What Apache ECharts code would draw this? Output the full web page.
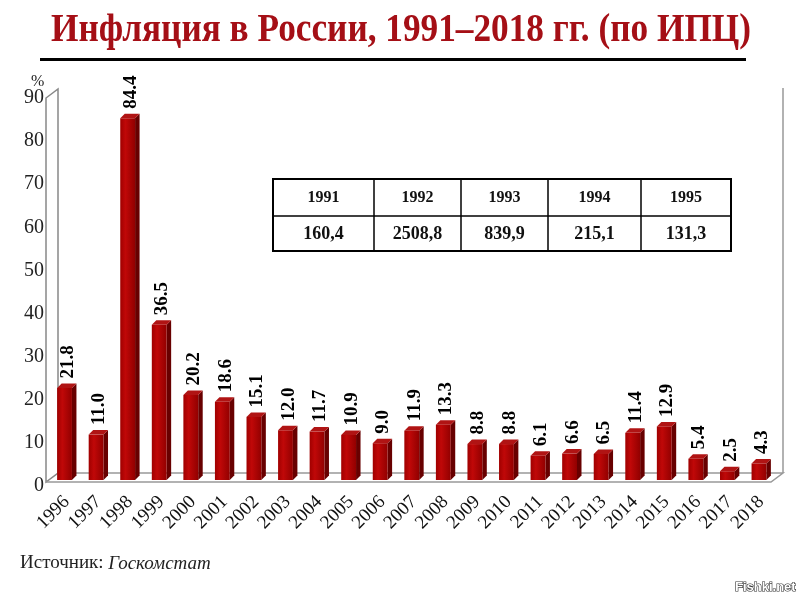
<!DOCTYPE html>
<html><head><meta charset="utf-8">
<script src="https://cdn.jsdelivr.net/npm/echarts@6/dist/echarts.min.js"></script>
<style>html,body{margin:0;padding:0;background:#fff}#c{width:800px;height:600px}</style>
</head><body><div id="c"></div>
<script>
const years = ['1996','1997','1998','1999','2000','2001','2002','2003','2004','2005','2006','2007','2008','2009','2010','2011','2012','2013','2014','2015','2016','2017','2018'];
const inflation = [21.8,11.0,84.4,36.5,20.2,18.6,15.1,12.0,11.7,10.9,9.0,11.9,13.3,8.8,8.8,6.1,6.6,6.5,11.4,12.9,5.4,2.5,4.3];
const yTicks = [0,10,20,30,40,50,60,70,80,90];
const tableYears = ['1991','1992','1993','1994','1995'];
const tableValues = ['160,4','2508,8','839,9','215,1','131,3'];
const titleText = 'Инфляция в России, 1991–2018 гг. (по ИПЦ)';

const G = {left:51, right:23, top:93, bottom:119};
const W = 800, H = 600;
const y0 = H - G.bottom;
const DX = 12, DY = 9; // wall depth

const chart = echarts.init(document.getElementById('c'), null, {renderer:'canvas'});

const serif = '"Liberation Serif","Times New Roman",serif';

function renderBar(params, api){
  const cat = api.value(0), v = api.value(1);
  const top = api.coord([cat, v]);
  const bot = api.coord([cat, 0]);
  const band = api.size([1,0])[0];
  const cx = top[0];
  const fw = band*0.47, d = 4.5;
  const xl = cx - (fw + d)/2, xr = xl + fw;
  const yt = top[1] + 1, yb = bot[1] - 1;
  const grad = new echarts.graphic.LinearGradient(0,0,1,0,[
    {offset:0,color:'#a00000'},{offset:0.35,color:'#c00808'},{offset:1,color:'#920000'}]);
  return {type:'group', children:[
    {type:'polygon', shape:{points:[[xr,yt],[xr+d,yt-d],[xr+d,yb-d],[xr,yb]]}, style:{fill:'#680000'}},
    {type:'rect', shape:{x:xl,y:yt,width:fw,height:yb-yt}, style:{fill:grad}},
    {type:'polygon', shape:{points:[[xl,yt],[xl+d,yt-d],[xr+d,yt-d],[xr,yt]]}, style:{fill:'#b01414'}},
    {type:'text', x:cx+1, y:yt-d-5, rotation:Math.PI/2,
      style:{text:v.toFixed(1), fill:'#000', font:'bold 19px '+serif, align:'left', verticalAlign:'middle'}}
  ]};
}

const graphics = [];
// title
graphics.push({type:'text', x:401, y:30, scaleX:0.86, originX:0, originY:0,
  style:{text:titleText, fill:'#a50f16', font:'bold 41px '+serif, align:'center', verticalAlign:'middle'}});
graphics.push({type:'rect', shape:{x:40,y:58,width:706,height:3}, style:{fill:'#000'}});
// walls
const xr = W - G.right;
graphics.push({type:'polygon', z:-1, shape:{points:[[46,y0+1],[46,G.top+5],[46+DX,G.top+5-DY],[46+DX,y0+1-DY]]}, style:{fill:'#fff', stroke:'#888', lineWidth:1.5}});
graphics.push({type:'polyline', z:-1, shape:{points:[[46,y0+1],[xr-6,y0+1],[xr+6,y0+1-DY],[46+DX,y0+1-DY]]}, style:{stroke:'#999', lineWidth:1.5, fill:null}});
graphics.push({type:'line', z:-1, shape:{x1:xr+6,y1:G.top-5,x2:xr+6,y2:y0+1-DY}, style:{stroke:'#999', lineWidth:1.5}});
// percent sign
graphics.push({type:'text', x:31, y:74, style:{text:'%', fill:'#222', font:'16px '+serif}});
// table
const colX = [273,374,461,548,641,731];
const tTop = 179, tMid = 216, tBot = 251;
const tableChildren = [];
tableChildren.push({type:'rect', shape:{x:colX[0],y:tTop,width:colX[5]-colX[0],height:tBot-tTop}, style:{fill:'#fff',stroke:'#000',lineWidth:2}});
tableChildren.push({type:'line', shape:{x1:colX[0],y1:tMid,x2:colX[5],y2:tMid}, style:{stroke:'#000',lineWidth:1.5}});
for(let i=1;i<5;i++) tableChildren.push({type:'line', shape:{x1:colX[i],y1:tTop,x2:colX[i],y2:tBot}, style:{stroke:'#000',lineWidth:1.5}});
tableYears.forEach((t,i)=>{
  const cx=(colX[i]+colX[i+1])/2;
  tableChildren.push({type:'text', x:cx, y:(tTop+tMid)/2, style:{text:t, fill:'#111', font:'bold 16px '+serif, align:'center', verticalAlign:'middle'}});
  tableChildren.push({type:'text', x:cx, y:(tMid+tBot)/2+1, style:{text:tableValues[i], fill:'#111', font:'bold 18px '+serif, align:'center', verticalAlign:'middle'}});
});
graphics.push({type:'group', z:10, children:tableChildren});
// source
graphics.push({type:'text', x:20, y:554, style:{text:'{n|Источник: }{i|Госкомстат}', rich:{n:{font:'19px '+serif, fill:'#222'}, i:{font:'italic 19px '+serif, fill:'#222'}}}});
// watermark
graphics.push({type:'text', x:735, y:581, style:{text:'Fishki.net', fill:'#fff', stroke:'#333', lineWidth:1.2, font:'bold 13px "Liberation Sans",Arial,sans-serif'}});

chart.setOption({
  animation:false,
  backgroundColor:'#fff',
  grid:{left:G.left, right:G.right, top:G.top, bottom:G.bottom, containLabel:false},
  xAxis:{type:'category', data:years, boundaryGap:true,
    axisLine:{show:false}, axisTick:{show:false},
    axisLabel:{rotate:45, margin:18, color:'#111', fontFamily:serif, fontSize:19, interval:0}},
  yAxis:{type:'value', min:0, max:90, interval:10,
    axisLine:{show:false}, axisTick:{show:false}, splitLine:{show:false},
    axisLabel:{margin:7, color:'#222', fontFamily:serif, fontSize:20,
      formatter:'{a|{value}}', rich:{a:{fontFamily:serif, fontSize:20, color:'#222', padding:[10,0,0,0]}}}},
  series:[{type:'custom', data:inflation.map((v,i)=>[i,v]), renderItem:renderBar, clip:false}],
  graphic:graphics
});
</script></body></html>
